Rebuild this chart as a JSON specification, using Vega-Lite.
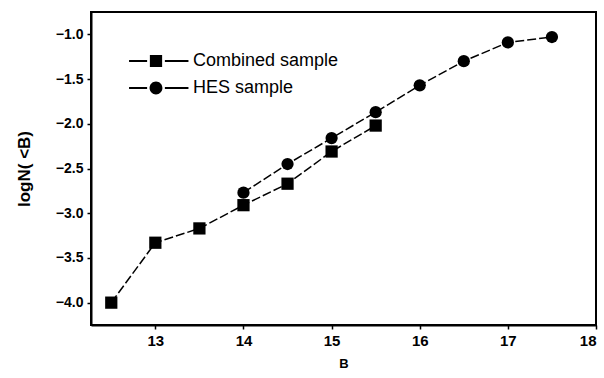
{
  "$schema": "https://vega.github.io/schema/vega-lite/v6.json",
  "width": 505,
  "height": 313,
  "autosize": "none",
  "padding": {"left": 91, "top": 12, "right": 8, "bottom": 53},
  "background": "white",
  "config": {
    "view": {"stroke": "black", "strokeWidth": 2},
    "font": "Liberation Sans",
    "axis": {
      "grid": false,
      "labelColor": "black",
      "labelFont": "Liberation Sans",
      "labelFontWeight": "bold",
      "titleColor": "black",
      "titleFont": "Liberation Sans",
      "titleFontWeight": "bold",
      "domainColor": "black",
      "domainWidth": 2,
      "tickColor": "black",
      "tickWidth": 1.5,
      "tickSize": 4
    }
  },
  "data": {
    "values": [
      {"series": "Combined sample", "B": 12.5, "logN": -4.0},
      {"series": "Combined sample", "B": 13.0, "logN": -3.33},
      {"series": "Combined sample", "B": 13.5, "logN": -3.17},
      {"series": "Combined sample", "B": 14.0, "logN": -2.91},
      {"series": "Combined sample", "B": 14.5, "logN": -2.67},
      {"series": "Combined sample", "B": 15.0, "logN": -2.31},
      {"series": "Combined sample", "B": 15.5, "logN": -2.02},
      {"series": "HES sample", "B": 14.0, "logN": -2.77},
      {"series": "HES sample", "B": 14.5, "logN": -2.45},
      {"series": "HES sample", "B": 15.0, "logN": -2.16},
      {"series": "HES sample", "B": 15.5, "logN": -1.87},
      {"series": "HES sample", "B": 16.0, "logN": -1.57},
      {"series": "HES sample", "B": 16.5, "logN": -1.30},
      {"series": "HES sample", "B": 17.0, "logN": -1.09},
      {"series": "HES sample", "B": 17.5, "logN": -1.03}
    ]
  },
  "encoding": {
    "x": {
      "field": "B",
      "type": "quantitative",
      "title": "B",
      "scale": {"domain": [12.27, 18], "nice": false, "zero": false},
      "axis": {"values": [13, 14, 15, 16, 17, 18], "format": "d", "labelFontSize": 15, "labelPadding": 4, "titleFontSize": 13, "titlePadding": 9}
    },
    "y": {
      "field": "logN",
      "type": "quantitative",
      "title": "logN( <B)",
      "scale": {"domain": [-4.25, -0.75], "nice": false, "zero": false},
      "axis": {"values": [-4, -3.5, -3, -2.5, -2, -1.5, -1], "format": ".1f", "labelFontSize": 14, "labelPadding": 4, "titleFontSize": 17, "titlePadding": 22}
    }
  },
  "resolve": {"scale": {"shape": "independent"}, "legend": {"shape": "independent"}},
  "layer": [
    {
      "mark": {"type": "line", "color": "black", "strokeWidth": 1.5, "strokeDash": [9, 3]},
      "encoding": {"detail": {"field": "series"}}
    },
    {
      "mark": {"type": "point", "filled": true, "color": "black", "opacity": 1, "size": 150},
      "encoding": {
        "shape": {
          "field": "series",
          "type": "nominal",
          "scale": {"domain": ["Combined sample", "HES sample"], "range": ["square", "circle"]},
          "legend": null
        }
      }
    },
    {
      "transform": [{"filter": "false"}],
      "mark": {"type": "point", "filled": true, "color": "black", "opacity": 1, "size": 150},
      "encoding": {
        "shape": {
          "field": "series",
          "type": "nominal",
          "scale": {
            "domain": ["Combined sample", "HES sample"],
            "range": [
              "M-1,-1H1V1H-1Z M-4.4,-0.17H-1.45V0.17H-4.4Z M1.45,-0.17H5.3V0.17H1.45Z",
              "M1.05,0A1.05,1.05 0 1,1 -1.05,0A1.05,1.05 0 1,1 1.05,0Z M-4.4,-0.17H-1.45V0.17H-4.4Z M1.45,-0.17H5.3V0.17H1.45Z"
            ]
          },
          "legend": {
            "title": null,
            "orient": "none",
            "legendX": 56,
            "legendY": 40,
            "symbolSize": 150,
            "symbolFillColor": "black",
            "symbolStrokeColor": "black",
            "symbolOpacity": 1,
            "labelFont": "Liberation Sans",
            "labelFontSize": 18,
            "labelColor": "black",
            "labelOffset": 28,
            "rowPadding": 7
          }
        }
      }
    }
  ]
}
